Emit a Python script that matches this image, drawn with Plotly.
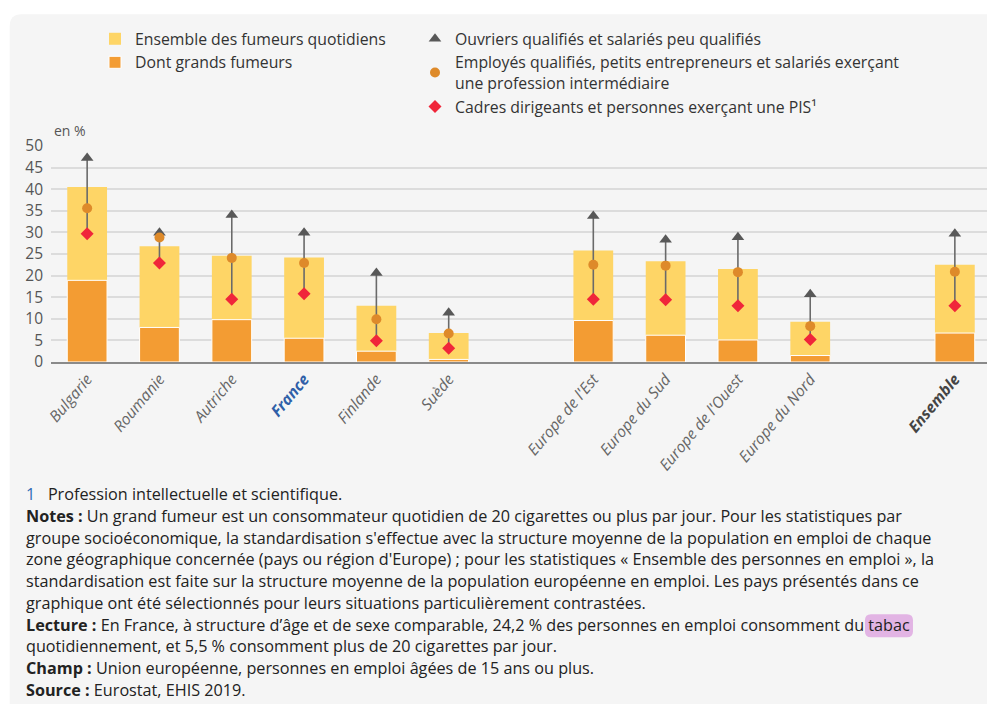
import plotly.graph_objects as go

# categories, with two empty slots used as gaps on the axis
categories = ["Bulgarie", "Roumanie", "Autriche", "France", "Finlande", "Suède",
              "Europe de l'Est", "Europe du Sud", "Europe de l'Ouest", "Europe du Nord",
              "Ensemble"]
axis_order = ["Bulgarie", "Roumanie", "Autriche", "France", "Finlande", "Suède", " ",
              "Europe de l'Est", "Europe du Sud", "Europe de l'Ouest", "Europe du Nord", "  ",
              "Ensemble"]

fumeurs_quotidiens = [40.5, 26.8, 24.6, 24.2, 13.0, 6.7, 25.8, 23.3, 21.5, 9.3, 22.5]
grands_fumeurs = [18.9, 8.0, 9.8, 5.5, 2.5, 0.6, 9.6, 6.2, 5.1, 1.5, 6.7]
ouvriers = [47.2, 29.9, 34.0, 29.9, 20.6, 11.4, 33.8, 28.3, 28.9, 15.7, 29.7]
employes = [35.6, 28.8, 24.1, 22.9, 9.9, 6.6, 22.5, 22.3, 20.8, 8.3, 20.9]
cadres = [29.7, 22.9, 14.5, 15.8, 4.9, 3.2, 14.5, 14.4, 13.0, 5.2, 13.0]

# the page body has an 8px margin, so the figure is drawn 8px in from the window
OFF = 8
W, H = 995 - OFF, 704 - OFF
PL, PR, PT, PB = 51.3, 991, 145.7, 361.7      # plot area in window pixels
ML, MR, MT, MB = PL - OFF, W - (PR - OFF), PT - OFF, H - (PB - OFF)
PW, PH = PR - PL, PB - PT


def px_x(x):
    return (x - PL) / PW


def px_y(y):
    return (PB - y) / PH


def tick_label(c):
    if c == "France":
        return "<b><i><span style='color:#2f5fa8'>France</span></i></b>"
    if c == "Ensemble":
        return "<b><i><span style='color:#444'>Ensemble</span></i></b>"
    if c.strip() == "":
        return c
    return "<i>" + c + "</i>"


fig = go.Figure()

fig.add_trace(go.Bar(x=categories, y=fumeurs_quotidiens, name="Ensemble des fumeurs quotidiens",
                     marker=dict(color="#fed566", line=dict(width=0)), width=0.55,
                     legend="legend", hoverinfo="skip"))
fig.add_trace(go.Bar(x=categories, y=grands_fumeurs, name="Dont grands fumeurs",
                     marker=dict(color="#f39c33", line=dict(color="white", width=1)), width=0.55,
                     legend="legend", hoverinfo="skip"))

# vertical connectors between the lowest and highest group
seg_x, seg_y = [], []
for c, lo, hi in zip(categories, cadres, ouvriers):
    seg_x += [c, c, None]
    seg_y += [lo, hi, None]
fig.add_trace(go.Scatter(x=seg_x, y=seg_y, mode="lines", line=dict(color="#6a6a6a", width=1.6),
                         showlegend=False, hoverinfo="skip"))

fig.add_trace(go.Scatter(x=categories, y=ouvriers, mode="markers",
                         name="Ouvriers qualifiés et salariés peu qualifiés",
                         marker=dict(symbol="triangle-up", size=11, color="#585858"),
                         legend="legend2"))
fig.add_trace(go.Scatter(x=categories, y=employes, mode="markers",
                         name="Employés qualifiés, petits entrepreneurs et salariés exerçant<br>une profession intermédiaire",
                         marker=dict(symbol="circle", size=10, color="#de8a2a"),
                         legend="legend2"))
fig.add_trace(go.Scatter(x=categories, y=cadres, mode="markers",
                         name="Cadres dirigeants et personnes exerçant une PIS¹",
                         marker=dict(symbol="diamond", size=10, color="#f0263a"),
                         legend="legend2"))

# grey rounded panel behind everything
r = 12
x0, y0, x1, y1 = px_x(10), px_y(14), px_x(1010), px_y(720)
rx, ry = r / PW, r / PH
panel = (f"M {x0},{y1} L {x0},{y0 - ry} Q {x0},{y0} {x0 + rx},{y0} "
         f"L {x1},{y0} L {x1},{y1} Z")
shapes = [dict(type="path", xref="paper", yref="paper", path=panel,
               fillcolor="#f5f5f5", line=dict(width=0), layer="below")]

notes = [
    "<span style='color:#2f6bb5'>1</span>   Profession intellectuelle et scientifique.",
    "<b>Notes :</b> Un grand fumeur est un consommateur quotidien de 20 cigarettes ou plus par jour. Pour les statistiques par",
    "groupe socioéconomique, la standardisation s'effectue avec la structure moyenne de la population en emploi de chaque",
    "zone géographique concernée (pays ou région d'Europe) ; pour les statistiques « Ensemble des personnes en emploi », la",
    "standardisation est faite sur la structure moyenne de la population européenne en emploi. Les pays présentés dans ce",
    "graphique ont été sélectionnés pour leurs situations particulièrement contrastées.",
    "<b>Lecture :</b> En France, à structure d’âge et de sexe comparable, 24,2 % des personnes en emploi consomment du tabac",
    "quotidiennement, et 5,5 % consomment plus de 20 cigarettes par jour.",
    "<b>Champ :</b> Union européenne, personnes en emploi âgées de 15 ans ou plus.",
    "<b>Source :</b> Eurostat, EHIS 2019.",
]
annotations = [dict(text="en %", xref="paper", yref="paper", x=px_x(52), y=px_y(130),
                    xanchor="left", yanchor="middle", showarrow=False,
                    font=dict(size=14, color="#555"))]
for i, line in enumerate(notes):
    annotations.append(dict(text=line, xref="paper", yref="paper", x=px_x(24), y=px_y(494 + 21.7 * i),
                            xanchor="left", yanchor="middle", showarrow=False,
                            font=dict(size=16.2, color="#222")))

# highlight behind the word "tabac"
hx0, hx1, hy0, hy1, hr = 865, 913, 614, 637, 6
shapes.append(dict(type="path", xref="paper", yref="paper", layer="below",
                   fillcolor="#e2b4e4", line=dict(width=0),
                   path=(f"M {px_x(hx0 + hr)},{px_y(hy0)} L {px_x(hx1 - hr)},{px_y(hy0)} "
                         f"Q {px_x(hx1)},{px_y(hy0)} {px_x(hx1)},{px_y(hy0 + hr)} "
                         f"L {px_x(hx1)},{px_y(hy1 - hr)} Q {px_x(hx1)},{px_y(hy1)} {px_x(hx1 - hr)},{px_y(hy1)} "
                         f"L {px_x(hx0 + hr)},{px_y(hy1)} Q {px_x(hx0)},{px_y(hy1)} {px_x(hx0)},{px_y(hy1 - hr)} "
                         f"L {px_x(hx0)},{px_y(hy0 + hr)} Q {px_x(hx0)},{px_y(hy0)} {px_x(hx0 + hr)},{px_y(hy0)} Z")))

fig.update_layout(
    width=W, height=H,
    margin=dict(l=ML, r=MR, t=MT, b=MB, autoexpand=False),
    paper_bgcolor="white",
    plot_bgcolor="rgba(0,0,0,0)",
    font=dict(family="Open Sans", size=14, color="#333"),
    barmode="overlay",
    bargap=0.45,
    shapes=shapes,
    annotations=annotations,
    legend=dict(xref="container", yref="container", x=(95 - OFF) / W, y=1 - (22 - OFF) / H,
                xanchor="left", yanchor="top", bgcolor="rgba(0,0,0,0)",
                font=dict(size=15.8, color="#333"), traceorder="normal", itemclick=False),
    legend2=dict(xref="container", yref="container", x=(415 - OFF) / W, y=1 - (22 - OFF) / H,
                 xanchor="left", yanchor="top", bgcolor="rgba(0,0,0,0)",
                 font=dict(size=15.8, color="#333"), traceorder="normal", itemclick=False),
    xaxis=dict(type="category", categoryorder="array", categoryarray=axis_order,
               tickvals=axis_order, ticktext=[tick_label(c) for c in axis_order],
               range=[-0.5, len(axis_order) - 0.5], tickangle=-50,
               tickfont=dict(size=15.5, color="#666"), showgrid=False,
               showline=True, linecolor="#8a8a8a", linewidth=2, ticks=""),
    yaxis=dict(range=[0, 50], dtick=5, showgrid=True, gridcolor="#dcdcdc", gridwidth=1.5,
               zeroline=False, showline=False, ticks="",
               tickfont=dict(size=15.5, color="#555"), ticklabelstandoff=7),
)

fig.write_html("out.html")
